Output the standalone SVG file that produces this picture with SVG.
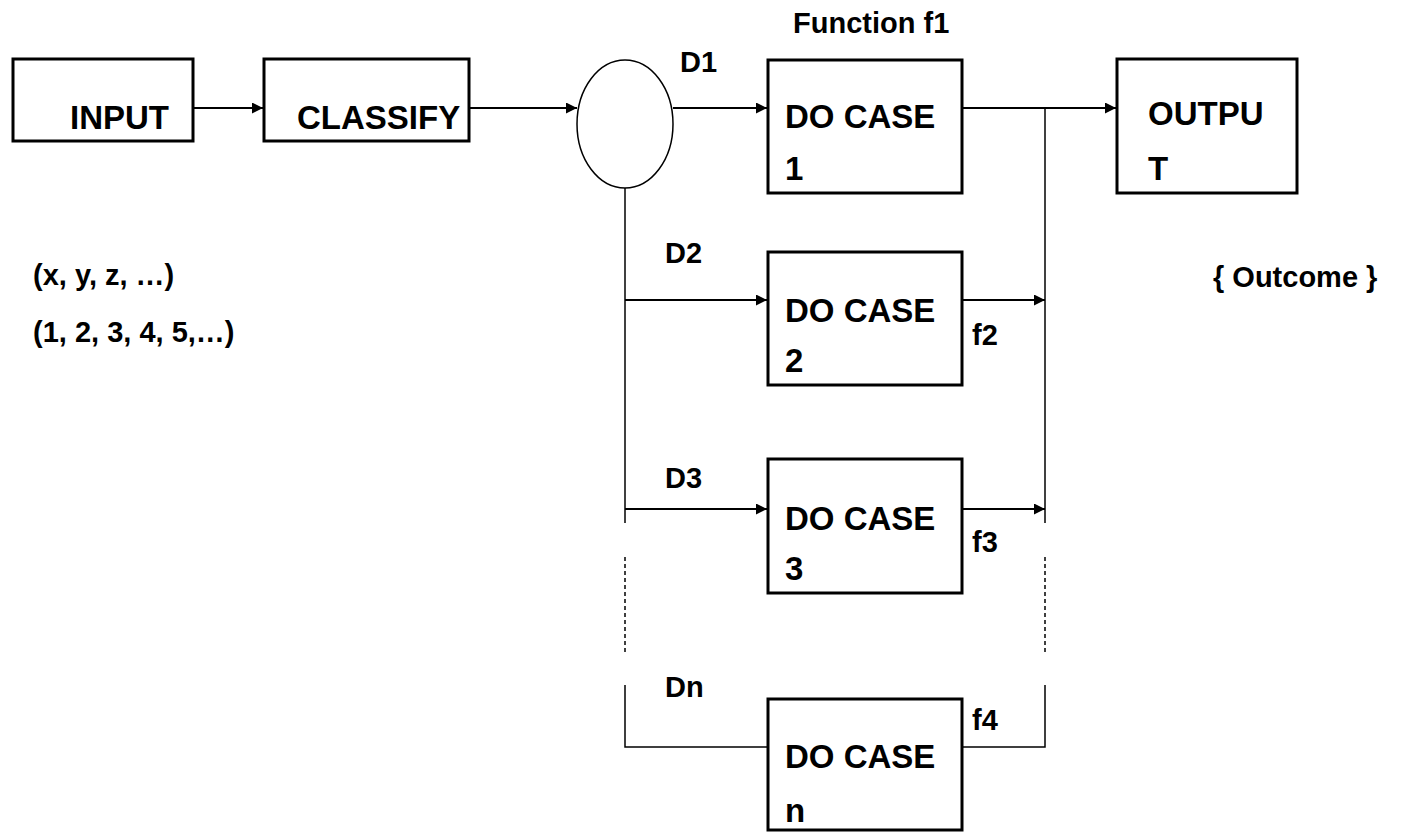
<svg xmlns="http://www.w3.org/2000/svg" width="1404" height="833" viewBox="0 0 1404 833">
<defs>
<marker id="arr" viewBox="0 0 10 10" refX="10" refY="5" markerWidth="11" markerHeight="11" markerUnits="userSpaceOnUse" orient="auto">
<path d="M0,0 L10,5 L0,10 z" fill="#000"/>
</marker>
<style>
.box{fill:#fff;stroke:#000;stroke-width:3}
.big{font-family:"Liberation Sans",Arial,sans-serif;font-weight:bold;font-size:33px;fill:#000}
.sm{font-family:"Liberation Sans",Arial,sans-serif;font-weight:bold;font-size:29px;fill:#000}
.c{fill:none;stroke:#000;stroke-width:2}
.v{fill:none;stroke:#000;stroke-width:1.5}
.d{fill:none;stroke:#000;stroke-width:1.5;stroke-dasharray:4,3}
</style>
</defs>
<rect width="1404" height="833" fill="#fff"/>
<g id="connectors">
<line class="c" x1="193" y1="108" x2="263" y2="108" marker-end="url(#arr)"/>
<line class="c" x1="469" y1="108" x2="577" y2="108" marker-end="url(#arr)"/>
<line class="c" x1="673" y1="108" x2="767" y2="108" marker-end="url(#arr)"/>
<line class="c" x1="962" y1="108" x2="1116" y2="108" marker-end="url(#arr)"/>
<line class="v" x1="625" y1="188" x2="625" y2="523"/>
<line class="d" x1="625" y1="557" x2="625" y2="652"/>
<polyline class="v" points="625,685 625,747 768,747"/>
<line class="c" x1="625" y1="300" x2="767" y2="300" marker-end="url(#arr)"/>
<line class="c" x1="625" y1="509" x2="767" y2="509" marker-end="url(#arr)"/>
<line class="v" x1="1045" y1="108" x2="1045" y2="523"/>
<line class="d" x1="1045" y1="557" x2="1045" y2="652"/>
<polyline class="v" points="1045,685 1045,747 962,747"/>
<line class="c" x1="962" y1="300" x2="1045" y2="300" marker-end="url(#arr)"/>
<line class="c" x1="962" y1="509" x2="1045" y2="509" marker-end="url(#arr)"/>
</g>
<g id="input">
<rect class="box" x="13" y="59" width="180" height="82"/>
<text class="big" x="70" y="129">INPUT</text>
</g>
<g id="classify">
<rect class="box" x="264" y="59" width="205" height="82"/>
<text class="big" x="297" y="129">CLASSIFY</text>
</g>
<g id="decision">
<ellipse cx="625" cy="124" rx="48" ry="64" fill="#fff" stroke="#000" stroke-width="1.5"/>
</g>
<g id="case1">
<rect class="box" x="768" y="60" width="194" height="133"/>
<text class="big" x="785" y="128">DO CASE</text>
<text class="big" x="785" y="180">1</text>
</g>
<g id="case2">
<rect class="box" x="768" y="252" width="194" height="133"/>
<text class="big" x="785" y="322">DO CASE</text>
<text class="big" x="785" y="372">2</text>
</g>
<g id="case3">
<rect class="box" x="768" y="459" width="194" height="134"/>
<text class="big" x="785" y="530">DO CASE</text>
<text class="big" x="785" y="580">3</text>
</g>
<g id="casen">
<rect class="box" x="768" y="699" width="194" height="131"/>
<text class="big" x="785" y="768">DO CASE</text>
<text class="big" x="785" y="822">n</text>
</g>
<g id="output">
<rect class="box" x="1117" y="59" width="180" height="134"/>
<text class="big" x="1148" y="125">OUTPU</text>
<text class="big" x="1148" y="180">T</text>
</g>
<g id="labels">
<text class="sm" x="793" y="33">Function f1</text>
<text class="sm" x="680" y="72">D1</text>
<text class="sm" x="665" y="263">D2</text>
<text class="sm" x="665" y="488">D3</text>
<text class="sm" x="665" y="697">Dn</text>
<text class="sm" x="972" y="345">f2</text>
<text class="sm" x="972" y="552">f3</text>
<text class="sm" x="972" y="730">f4</text>
<text class="sm" x="33" y="285">(x, y, z, …)</text>
<text class="sm" x="33" y="342">(1, 2, 3, 4, 5,…)</text>
<text class="sm" x="1213" y="287">{ Outcome }</text>
</g>
</svg>
